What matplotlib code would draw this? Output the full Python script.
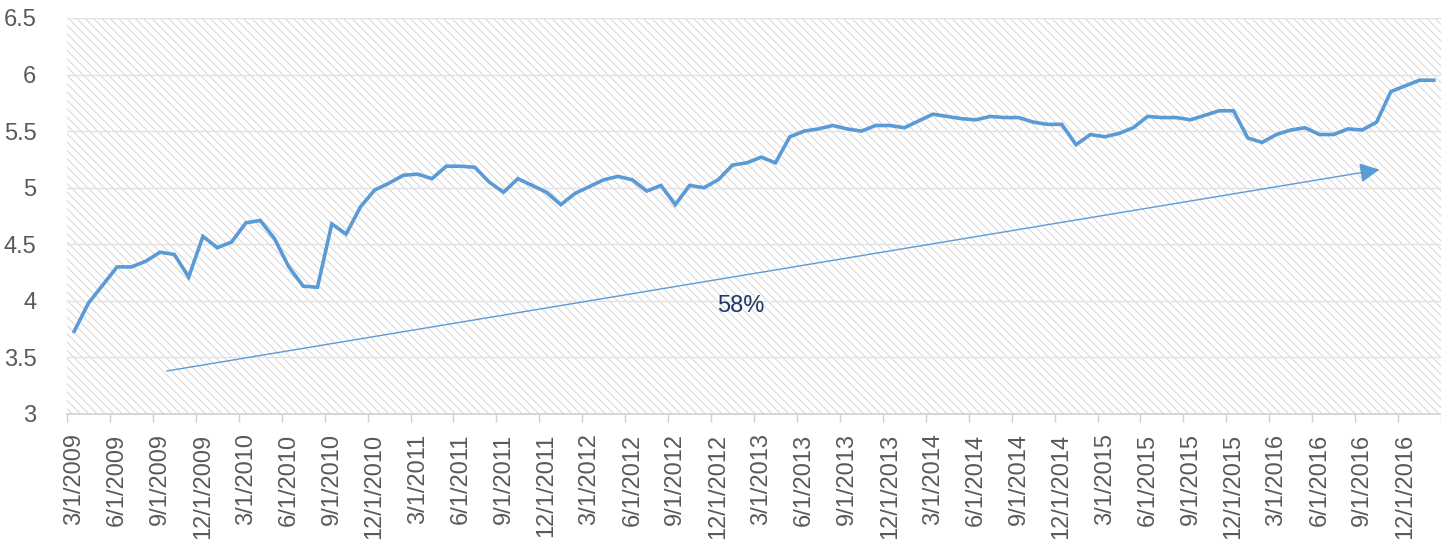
import matplotlib
matplotlib.use("Agg")
import matplotlib.pyplot as plt
from matplotlib.patches import Rectangle

plt.rcParams['font.family'] = ['Liberation Sans', 'DejaVu Sans']
plt.rcParams['hatch.linewidth'] = 0.6

# ---- data (monthly, starting 3/1/2009) ----
values = [
    3.73, 3.98, 4.14, 4.30, 4.30, 4.35, 4.43, 4.41, 4.21, 4.57,
    4.47, 4.52, 4.69, 4.71, 4.55, 4.30, 4.13, 4.12, 4.68, 4.59,
    4.83, 4.98, 5.04, 5.11, 5.12, 5.08, 5.19, 5.19, 5.18, 5.05,
    4.96, 5.08, 5.02, 4.96, 4.85, 4.95, 5.01, 5.07, 5.10, 5.07,
    4.97, 5.02, 4.85, 5.02, 5.00, 5.07, 5.20, 5.22, 5.27, 5.22,
    5.45, 5.50, 5.52, 5.55, 5.52, 5.50, 5.55, 5.55, 5.53, 5.59,
    5.65, 5.63, 5.61, 5.60, 5.63, 5.62, 5.62, 5.58, 5.56, 5.56,
    5.38, 5.47, 5.45, 5.48, 5.53, 5.63, 5.62, 5.62, 5.60, 5.64,
    5.68, 5.68, 5.44, 5.40, 5.47, 5.51, 5.53, 5.47, 5.47, 5.52,
    5.51, 5.58, 5.85, 5.90, 5.95, 5.95,
]

tick_labels = [
    "3/1/2009", "6/1/2009", "9/1/2009", "12/1/2009",
    "3/1/2010", "6/1/2010", "9/1/2010", "12/1/2010",
    "3/1/2011", "6/1/2011", "9/1/2011", "12/1/2011",
    "3/1/2012", "6/1/2012", "9/1/2012", "12/1/2012",
    "3/1/2013", "6/1/2013", "9/1/2013", "12/1/2013",
    "3/1/2014", "6/1/2014", "9/1/2014", "12/1/2014",
    "3/1/2015", "6/1/2015", "9/1/2015", "12/1/2015",
    "3/1/2016", "6/1/2016", "9/1/2016", "12/1/2016",
]

y_ticks = [3, 3.5, 4, 4.5, 5, 5.5, 6, 6.5]
y_tick_labels = ["3", "3.5", "4", "4.5", "5", "5.5", "6", "6.5"]

growth_label = "58%"
arrow_start = (6.47, 3.38)
arrow_end = (91.2, 5.16)
growth_label_pos = (46.56, 3.955)

# ---- figure ----
W, H = 1441, 539
fig = plt.figure(figsize=(W / 100, H / 100), dpi=100)
ax = fig.add_axes([67 / W, 125 / H, (W - 67) / W, 396 / H])

# hatched plot-area background
bg = Rectangle((0, 0), 1, 1, transform=ax.transAxes, facecolor='white',
               edgecolor='#cfcfcf', hatch='\\\\\\\\', linewidth=0, zorder=0)
ax.add_patch(bg)

x = list(range(len(values)))
ax.plot(x, values, color='#5B9BD5', linewidth=2.6, zorder=3,
        solid_joinstyle='miter')

ax.set_xlim(-0.5, 94.65)
ax.set_ylim(3, 6.5)

ax.set_yticks(y_ticks)
ax.set_yticklabels(y_tick_labels)
ax.yaxis.grid(True, color='#e2e2e2', linewidth=1.0, zorder=1)
ax.set_axisbelow(False)

ax.set_xticks(list(range(0, 3 * len(tick_labels), 3)))
ax.set_xticklabels(tick_labels, rotation=90, va='top', ha='center')
ax.set_xticks([k - 0.5 for k in range(0, 3 * len(tick_labels) + 1, 3)], minor=True)

ax.tick_params(axis='x', which='major', length=0, pad=14, labelsize=17,
               labelcolor='#595959')
ax.tick_params(axis='x', which='minor', length=6, color='#d0d0d0', width=1)
ax.tick_params(axis='y', length=0, pad=22, labelsize=17, labelcolor='#595959')

for s in ['left', 'right', 'top']:
    ax.spines[s].set_visible(False)
ax.spines['bottom'].set_color('#d0d0d0')
ax.spines['bottom'].set_linewidth(1.2)

# growth arrow and label
ax.annotate('', xy=arrow_end, xytext=arrow_start,
            arrowprops=dict(arrowstyle='-|>', color='#5B9BD5', lw=1.0,
                            mutation_scale=30, shrinkA=0, shrinkB=0),
            zorder=4)
ax.text(growth_label_pos[0], growth_label_pos[1], growth_label,
        ha='center', va='center', fontsize=17, color='#203864', zorder=5)

fig.savefig('out.png', dpi=100)
